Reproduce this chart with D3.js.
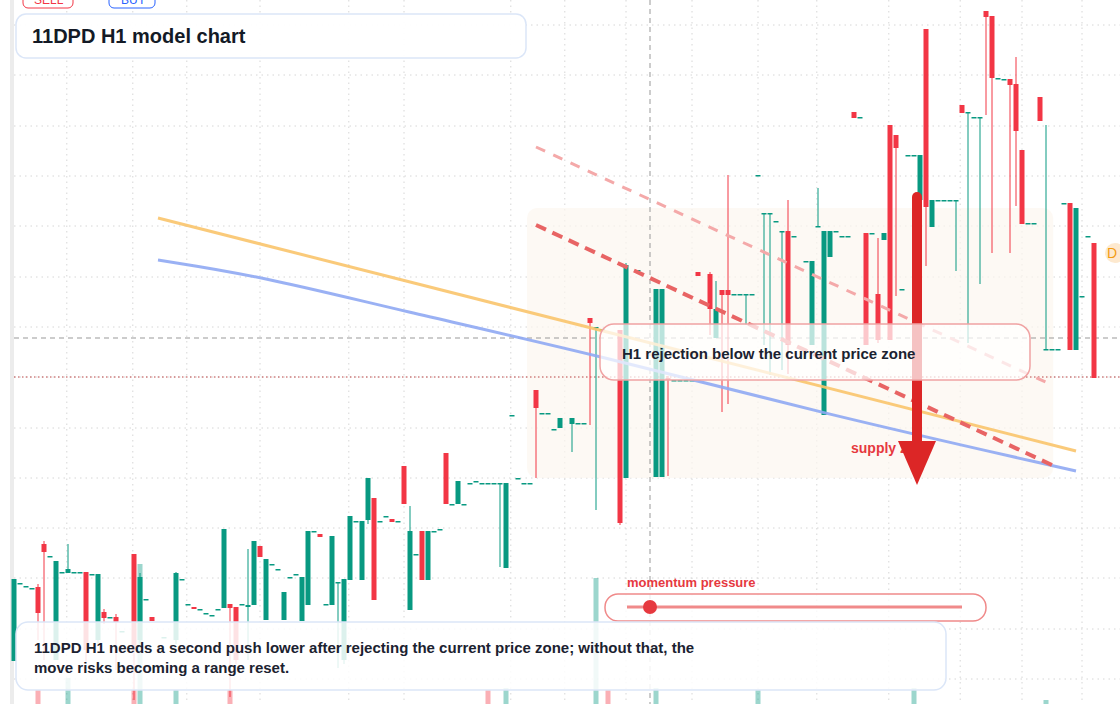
<!DOCTYPE html>
<html>
<head>
<meta charset="utf-8">
<script src="https://cdn.jsdelivr.net/npm/d3@7/dist/d3.min.js"></script>
<style>
  body { margin: 0; background: #fff; }
  svg { display: block; font-family: "Liberation Sans", Arial, sans-serif; }
</style>
</head>
<body>
<svg width="1120" height="704"></svg>
<script>
// candles: [index, open, high, low, close]
var candles = [
  [0,43,125,43,125],[1,121,121,121,121],[2,118,118,118,118],[3,116,116,116,116],
  [4,117,120,64,91],[5,160,163,44,152],[6,148,148,148,148],[7,44,143,44,143],
  [8,132,132,132,132],[9,131,160,131,135],[10,132,132,132,132],[11,132,132,132,132],
  [12,132,132,40,54],[13,130,130,130,130],[14,64,130,60,130],[15,92,95,80,86],
  [16,87,87,87,87],[17,87,90,34,82],[18,73,73,73,73],[20,150,150,4,54],
  [21,64,131,60,127],[22,105,105,105,105],[23,87,87,83,83],[25,67,67,67,67],
  [27,64,132,60,131],[28,125,125,125,125],[29,100,100,100,100],[30,97,97,95,95],
  [31,95,95,95,95],[32,91,91,91,91],[33,89,89,89,89],[34,95,95,95,95],
  [35,96,175,96,175],[36,100,100,7,96],[37,97,97,40,44],[38,100,100,100,100],
  [39,97,155,44,99],[40,99,163,99,163],[41,158,158,147,147],[42,84,145,84,145],
  [43,140,140,140,140],[44,135,135,135,135],[45,84,112,84,112],[46,127,127,127,127],
  [47,130,130,130,130],[48,83,127,83,127],[49,99,173,99,173],[50,173,173,173,173],
  [51,170,170,167,167],[52,100,100,100,100],[53,99,168,99,168],[54,122,122,36,122],
  [55,44,125,40,125],[56,124,188,124,188],[57,183,183,183,183],[58,124,183,124,183],
  [59,184,226,180,226],[60,206,206,104,104],[61,183,183,183,183],[62,188,188,188,188],
  [63,185,185,182,182],[64,183,183,183,183],[65,238,238,200,200],[66,94,198,94,173],
  [67,150,150,150,150],[68,173,173,124,124],[69,124,173,124,173],[70,173,173,173,173],
  [71,175,175,175,175],[72,251,251,200,200],[73,200,200,200,200],[74,200,223,200,223],
  [75,200,200,200,200],[76,221,221,221,221],[77,223,223,223,223],[78,221,221,221,221],
  [79,221,221,221,221],[80,221,221,221,221],[81,221,221,137,221],[82,136,221,136,221],
  [83,289,289,289,289],[84,226,226,226,226],[85,221,221,221,221],[86,221,221,221,221],
  [87,314,314,226,296],[88,291,291,291,291],[89,291,291,291,291],[90,275,275,275,275],
  [91,276,286,276,286],[93,280,286,252,286],[94,281,281,281,281],[95,281,281,281,281],
  [96,386,386,279,381],[97,376,377,194,377],[98,375,375,375,375],[101,374,374,179,181],
  [102,226,441,226,439],[104,434,434,434,434],[107,227,415,227,415],[108,227,415,227,415],
  [109,326,328,228,324],[110,324,324,324,324],[111,324,324,324,324],[112,324,324,324,324],
  [113,324,324,324,324],[114,432,432,428,428],[116,430,432,369,395],[117,366,423,366,395],
  [118,414,414,292,409],[119,414,529,300,409],[120,410,410,410,410],[121,410,410,410,410],
  [122,410,410,379,410],[123,410,410,410,410],[124,529,529,529,529],[125,491,491,359,491],
  [126,491,491,329,491],[127,483,483,483,483],[128,473,473,334,473],[129,473,504,330,359],
  [130,468,468,468,468],[132,443,443,443,443],[133,359,443,359,443],[134,478,516,478,478],
  [135,289,473,289,473],[136,447,473,447,473],[137,473,473,473,473],[138,468,468,468,468],
  [139,468,468,468,468],[140,592,592,586,586],[141,587,587,587,587],[142,471,471,359,359],
  [143,471,471,471,471],[144,410,466,361,364],[145,464,471,464,471],[146,579,579,364,364],
  [147,569,569,408,556],[148,415,415,415,415],[149,549,549,549,549],[150,549,549,549,549],
  [151,504,549,504,549],[152,675,675,438,497],[153,477,504,477,504],[154,504,504,504,504],
  [155,504,504,504,504],[156,504,504,504,504],[157,504,504,433,504],[158,599,599,591,591],
  [159,592,592,361,592],[160,587,587,587,587],[161,587,587,420,587],[162,693,693,589,687],
  [163,688,688,451,626],[164,626,626,626,626],[165,625,625,625,625],[166,625,625,451,619],
  [167,620,647,498,573],[168,554,554,480,480],[169,481,481,481,481],[170,481,481,481,481],
  [171,607,607,583,583],[172,355,579,355,355],[173,355,355,355,355],[174,355,355,355,355],
  [175,501,501,501,501],[176,501,501,354,354],[177,354,496,354,496],[178,408,408,408,408],
  [179,468,468,468,468],[180,461,461,326,326]
];
// volume: [index, volume, up?]
var volumes = [
  [4,14,0],[9,26,1],[20,14,0],[21,140,1],[27,14,1],[36,14,0],[79,14,0],[82,16,1],
  [97,126,1],[99,14,0],[107,16,1],[124,14,1],[150,16,1],[172,4,1]
];
var priceTicks = [25,75,126,176,226,276,327,377,427,478,528,578,629,679];
var timeTicks = [8.8,19.8,28.8,41,55.8,65,82.8,91.8,102,113,124,133.8,145.8,157.7,168,178];
var orangeLine = [[24,486],[177,253]];
var blueLine = [[24,444],[41,428],[64,394],[98,348],[135,290],[177,233]];
var redDash = [[87,479],[173,239]];
var pinkDash = [[87,557],[173,319]];
var zone = {i0:85.5, i1:173.2, top:496, bottom:226};
var crossI = 106, crossP = 366, lastP = 327;

var svg = d3.select('svg');
var x = d3.scaleLinear().domain([0,180]).range([14,1094]);
var y = d3.scaleLinear().domain([0,704]).range([704,0]);
var up = '#089981', down = '#f23645';

// left edge bar
svg.append('rect').attr('x',10).attr('y',0).attr('width',4).attr('height',704).attr('fill','#ececec');

// grid
svg.selectAll('.hg').data(priceTicks).enter().append('line')
  .attr('x1',14).attr('x2',1120).attr('y1',d=>y(d)).attr('y2',d=>y(d))
  .attr('stroke','#d6d6d6').attr('stroke-dasharray','1.5,4');
svg.selectAll('.vg').data(timeTicks).enter().append('line')
  .attr('x1',d=>x(d)).attr('x2',d=>x(d)).attr('y1',0).attr('y2',704)
  .attr('stroke','#d6d6d6').attr('stroke-dasharray','1.5,4');

// zone
svg.append('rect').attr('x',x(zone.i0)).attr('y',y(zone.top))
  .attr('width',x(zone.i1)-x(zone.i0)).attr('height',y(zone.bottom)-y(zone.top))
  .attr('rx',10).attr('fill','#fcf6f0').attr('opacity',0.7);

// crosshair + last price
svg.append('line').attr('x1',x(crossI)).attr('x2',x(crossI)).attr('y1',0).attr('y2',704)
  .attr('stroke','#999').attr('stroke-dasharray','5,4');
svg.append('line').attr('x1',14).attr('x2',1120).attr('y1',y(crossP)).attr('y2',y(crossP))
  .attr('stroke','#999').attr('stroke-dasharray','5,4');
svg.append('line').attr('x1',14).attr('x2',1120).attr('y1',y(lastP)).attr('y2',y(lastP))
  .attr('stroke','#b44').attr('stroke-dasharray','1.5,2.5');

// volumes
svg.selectAll('.vol').data(volumes).enter().append('rect')
  .attr('x',d=>x(d[0])-2.5).attr('width',5)
  .attr('y',d=>704-d[1]).attr('height',d=>d[1])
  .attr('fill',d=>d[2]?up:down).attr('opacity',0.4);

// candles
var g = svg.append('g');
g.selectAll('.wick').data(candles).enter().append('line')
  .attr('x1',d=>x(d[0])).attr('x2',d=>x(d[0]))
  .attr('y1',d=>y(d[2])).attr('y2',d=>y(d[3]))
  .attr('stroke',d=>d[4]>=d[1]?up:down).attr('stroke-width',1);
g.selectAll('.body').data(candles).enter().append('rect')
  .attr('x',d=>x(d[0])-2.5).attr('width',5)
  .attr('y',d=>y(Math.max(d[1],d[4])))
  .attr('height',d=>Math.max(1.5,Math.abs(y(d[1])-y(d[4]))))
  .attr('fill',d=>d[4]>=d[1]?up:down);

// trend lines
var line = d3.line().x(d=>x(d[0])).y(d=>y(d[1]));
var curve = d3.line().x(d=>x(d[0])).y(d=>y(d[1])).curve(d3.curveBasis);
svg.append('path').attr('d',line(orangeLine)).attr('fill','none')
  .attr('stroke','#f9c46b').attr('stroke-width',3).attr('opacity',0.9);
svg.append('path').attr('d',curve(blueLine)).attr('fill','none')
  .attr('stroke','#8fa9f3').attr('stroke-width',3).attr('opacity',0.9);
svg.append('path').attr('d',line(pinkDash)).attr('fill','none')
  .attr('stroke','#f4a9a9').attr('stroke-width',3).attr('stroke-dasharray','10,9');
svg.append('path').attr('d',line(redDash)).attr('fill','none')
  .attr('stroke','#e86464').attr('stroke-width',4).attr('stroke-dasharray','11,7');

// supply zone label + arrow
svg.append('text').attr('x',851).attr('y',453).text('supply zone')
  .attr('font-size',14).attr('font-weight','bold').attr('fill','#e6393f');
svg.append('line').attr('x1',917).attr('x2',917).attr('y1',197).attr('y2',446)
  .attr('stroke','#dc2626').attr('stroke-width',10).attr('stroke-linecap','round');
svg.append('path').attr('d','M898,441 L936,441 L917,485 Z').attr('fill','#dc2626');

// annotation box (drawn over the arrow)
svg.append('rect').attr('x',600).attr('y',324).attr('width',430).attr('height',56).attr('rx',14)
  .attr('fill','#fff').attr('fill-opacity',0.72).attr('stroke','#f0a3a3').attr('stroke-width',1.5);
svg.append('text').attr('x',622).attr('y',359).text('H1 rejection below the current price zone')
  .attr('font-size',15).attr('font-weight','bold').attr('fill','#1b2230');

// D marker
svg.append('circle').attr('cx',1115).attr('cy',253).attr('r',10).attr('fill','#fde9cf');
svg.append('text').attr('x',1107).attr('y',258).text('D').attr('font-size',14).attr('fill','#f39c12');

// momentum slider
svg.append('text').attr('x',627).attr('y',587).text('momentum pressure')
  .attr('font-size',13).attr('font-weight','bold').attr('fill','#e6393f');
svg.append('rect').attr('x',605).attr('y',594).attr('width',381).attr('height',27).attr('rx',13)
  .attr('fill','#fff').attr('fill-opacity',0.8).attr('stroke','#f08a8a').attr('stroke-width',1.5);
svg.append('line').attr('x1',627).attr('x2',962).attr('y1',607).attr('y2',607)
  .attr('stroke','#f08a8a').attr('stroke-width',3);
svg.append('circle').attr('cx',650).attr('cy',607).attr('r',7).attr('fill','#e6393f');

// bottom note
svg.append('rect').attr('x',16).attr('y',622).attr('width',930).attr('height',68).attr('rx',12)
  .attr('fill','#fff').attr('fill-opacity',0.86).attr('stroke','#dbe6f8').attr('stroke-width',1.5);
var note = svg.append('text').attr('font-size',15).attr('font-weight','bold').attr('fill','#1b2230');
note.append('tspan').attr('x',34).attr('y',653)
  .text('11DPD H1 needs a second push lower after rejecting the current price zone; without that, the');
note.append('tspan').attr('x',34).attr('y',673).text('move risks becoming a range reset.');

// top buttons (cropped at the top edge, as in the original)
svg.append('rect').attr('x',23).attr('y',-10).attr('width',50).attr('height',18).attr('rx',5)
  .attr('fill','#fff').attr('stroke','#f23645');
svg.append('text').attr('x',34).attr('y',4).text('SELL').attr('font-size',12).attr('fill','#f23645');
svg.append('rect').attr('x',109).attr('y',-10).attr('width',46).attr('height',18).attr('rx',5)
  .attr('fill','#fff').attr('stroke','#2962ff');
svg.append('text').attr('x',121).attr('y',4).text('BUY').attr('font-size',12).attr('fill','#2962ff');

// title
svg.append('rect').attr('x',16).attr('y',14).attr('width',510).attr('height',44).attr('rx',10)
  .attr('fill','#fff').attr('fill-opacity',0.95).attr('stroke','#dbe6f8').attr('stroke-width',1.5);
svg.append('text').attr('x',32).attr('y',43).text('11DPD H1 model chart')
  .attr('font-size',20).attr('font-weight','bold').attr('fill','#131a26');
</script>
</body>
</html>
